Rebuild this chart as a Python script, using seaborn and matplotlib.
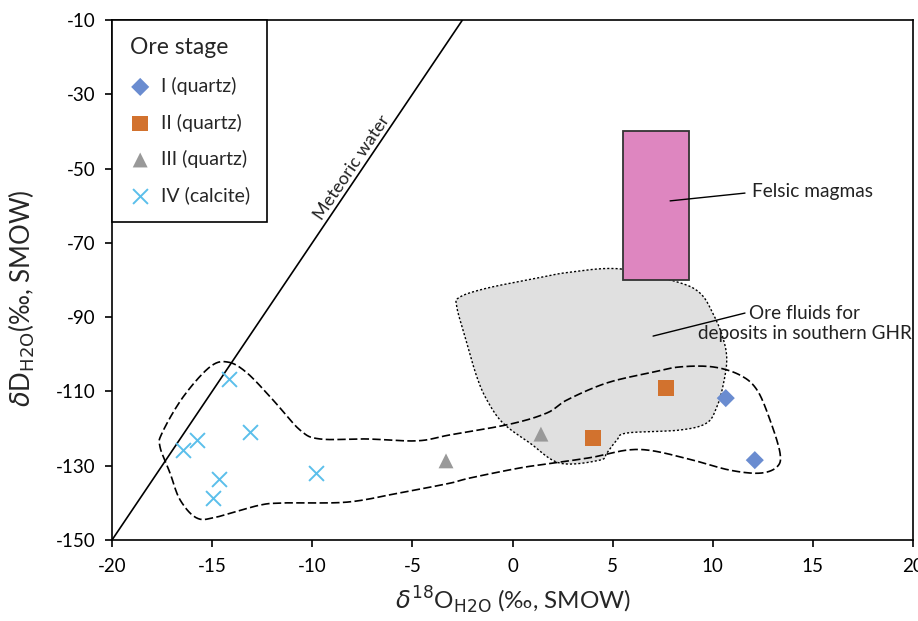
import numpy as np
import pandas as pd
import matplotlib
matplotlib.use("Agg")
import matplotlib.pyplot as plt
import seaborn as sns
from matplotlib.patches import Rectangle

# ---------------- data ----------------
stage_labels = ["I (quartz)", "II (quartz)", "III (quartz)", "IV (calcite)"]

d18O_I = [10.65, 12.1]
dD_I = [-111.8, -128.5]
d18O_II = [7.66, 4.0]
dD_II = [-109.1, -122.5]
d18O_III = [-3.32, 1.42]
dD_III = [-128.7, -121.5]
d18O_IV = [-14.16, -15.76, -16.46, -13.11, -14.66, -14.96, -9.82]
dD_IV = [-106.7, -123.1, -125.8, -120.9, -133.6, -138.7, -132.0]

# Meteoric water line: dD = 8 * d18O + 10
mwl_slope = 8.0
mwl_intercept = 10.0
mwl_x = [-20.0, -2.5]

# Felsic magma box
felsic_x = [5.5, 8.8]
felsic_y = [-80.0, -40.0]

# Ore fluids for deposits in southern GHR (grey field outline)
ghr_x = [5.36, 8.21, 9.36, 10.0, 10.5, 10.7, 10.5, 10.2, 9.7, 8.36, 5.71, 5.21,
         4.71, 4.36, 2.37, 0.87, -0.48, -1.28, -1.78, -2.28, -2.78, -2.63,
         -1.28, 1.22, 2.87]
ghr_y = [-77.0, -80.5, -83.5, -88.9, -95.4, -101.5, -108.8, -114.2, -118.5,
         -120.4, -121.2, -123.1, -126.6, -128.5, -129.3, -123.9, -118.5,
         -112.3, -106.1, -97.0, -87.3, -84.6, -82.2, -79.5, -77.9]

# Envelope of this study (dashed outline)
env_x = [-14.21, -13.26, -11.96, -10.61, -9.61, -7.27, -4.77, -3.12, -0.12,
         1.72, 2.72, 4.72, 7.02, 8.36, 10.01, 11.36, 12.21, 12.86, 13.36,
         13.21, 12.36, 10.86, 9.01, 7.02, 5.72, 4.02, 2.02, 0.37, -2.12,
         -3.12, -5.62, -8.26, -11.26, -12.61, -14.76, -15.76, -16.60, -17.10,
         -17.60, -17.50, -16.45, -15.11]
env_y = [-102.1, -105.0, -112.3, -120.4, -122.8, -122.8, -123.3, -121.7,
         -118.8, -115.8, -112.3, -107.7, -104.8, -103.4, -103.4, -105.6,
         -109.6, -117.7, -126.6, -130.3, -132.0, -131.2, -128.5, -126.0,
         -125.8, -127.7, -129.3, -130.6, -133.3, -134.7, -137.3, -139.8,
         -140.0, -140.6, -143.8, -144.1, -139.2, -132.0, -125.0, -121.2,
         -111.5, -103.4]

x_ticks = [-20, -15, -10, -5, 0, 5, 10, 15, 20]
y_ticks = [-150, -130, -110, -90, -70, -50, -30, -10]


def smooth_closed(xs, ys, n=16):
    P = np.column_stack([xs, ys]).astype(float)
    m = len(P)
    t = np.linspace(0, 1, n, endpoint=False)[:, None]
    out = []
    for i in range(m):
        p0, p1, p2, p3 = P[(i - 1) % m], P[i], P[(i + 1) % m], P[(i + 2) % m]
        seg = 0.5 * ((2 * p1) + (-p0 + p2) * t + (2 * p0 - 5 * p1 + 4 * p2 - p3) * t ** 2
                     + (-p0 + 3 * p1 - 3 * p2 + p3) * t ** 3)
        out.append(seg)
    out = np.vstack(out)
    out = np.vstack([out, out[:1]])
    return out[:, 0], out[:, 1]


sns.set_style("ticks")
plt.rcParams["font.family"] = ["Lato", "DejaVu Sans"]
plt.rcParams["mathtext.fontset"] = "dejavusans"
plt.rcParams["axes.unicode_minus"] = False

fig = plt.figure(figsize=(9.18, 6.21), dpi=100)
ax = fig.add_axes([112 / 918, 1 - 540 / 621, 801 / 918, 520 / 621])

# grey field
gx, gy = smooth_closed(ghr_x, ghr_y)
ax.fill(gx, gy, color="#E0E0E0", zorder=1, lw=0)
ax.plot(gx, gy, color="black", lw=1.0, ls=(0, (1.5, 1.5)), zorder=2)

# dashed envelope
ex, ey = smooth_closed(env_x, env_y)
ax.plot(ex, ey, color="black", lw=1.2, ls=(0, (5, 2)), zorder=2.5)

# meteoric water line
mx = np.array(mwl_x)
ax.plot(mx, mwl_slope * mx + mwl_intercept, color="black", lw=1.2, zorder=2)

# felsic magma box
ax.add_patch(Rectangle((felsic_x[0], felsic_y[0]), felsic_x[1] - felsic_x[0],
                       felsic_y[1] - felsic_y[0], facecolor="#DE86C0",
                       edgecolor="#333333", lw=1.3, zorder=3))

# data points
groups = [
    (d18O_I, dD_I, "D", "#6A8CD0", 85),
    (d18O_II, dD_II, "s", "#D2722E", 130),
    (d18O_III, dD_III, "^", "#999999", 115),
    (d18O_IV, dD_IV, "x", "#5BBFEB", 115),
]
for lab, (gxv, gyv, mk, col, s) in zip(stage_labels, groups):
    df = pd.DataFrame({"d18O": gxv, "dD": gyv})
    if mk == "x":
        sns.scatterplot(data=df, x="d18O", y="dD", marker=mk, color=col, s=s,
                        linewidth=1.4, label=lab, ax=ax, zorder=4)
    else:
        sns.scatterplot(data=df, x="d18O", y="dD", marker=mk, color=col, s=s,
                        edgecolor="none", label=lab, ax=ax, zorder=4)

ax.set_xlim(-20, 20)
ax.set_ylim(-150, -10)
ax.set_xticks(x_ticks)
ax.set_yticks(y_ticks)
ax.tick_params(direction="out", length=5, width=1.2, labelsize=13.5, colors="black")
ax.tick_params(axis="x", pad=8)
ax.tick_params(axis="y", pad=7)
for sp in ax.spines.values():
    sp.set_visible(True)
    sp.set_color("black")
    sp.set_linewidth(1.2)

ax.set_xlabel(r"$\delta^{18}$O$_{\rm H2O}$ (‰, SMOW)", fontsize=17.5)
ax.set_ylabel(r"$\delta$D$_{\rm H2O}$(‰, SMOW)", fontsize=18.5)
ax.xaxis.set_label_coords(0.5006, -0.085)
ax.yaxis.set_label_coords(-0.094, 0.465)

# annotations
ax.text(-8.0, -49.6, "Meteoric water", rotation=56, ha="center", va="center",
        fontsize=13, color="#222222", rotation_mode="anchor")
ax.text(11.96, -56.3, "Felsic magmas", ha="left", va="center", fontsize=13.8,
        color="#222222")
ax.plot([7.87, 11.61], [-58.7, -56.6], color="black", lw=1.0, zorder=5)
ax.text(14.6, -91.7, "Ore fluids for\ndeposits in southern GHR", ha="center",
        va="center", fontsize=13.6, color="#222222", linespacing=1.25)
ax.plot([7.02, 11.61], [-95.1, -88.9], color="black", lw=1.0, zorder=5)

leg = ax.legend(title="Ore stage", loc="upper left", borderaxespad=0,
                fancybox=False, edgecolor="black", framealpha=1,
                fontsize=14, title_fontsize=16.5, labelspacing=0.95,
                handletextpad=0.5, borderpad=0.9, handlelength=1.1)
leg.get_frame().set_linewidth(1.2)
leg._legend_box.align = "left"

fig.savefig("out.png", dpi=100)
